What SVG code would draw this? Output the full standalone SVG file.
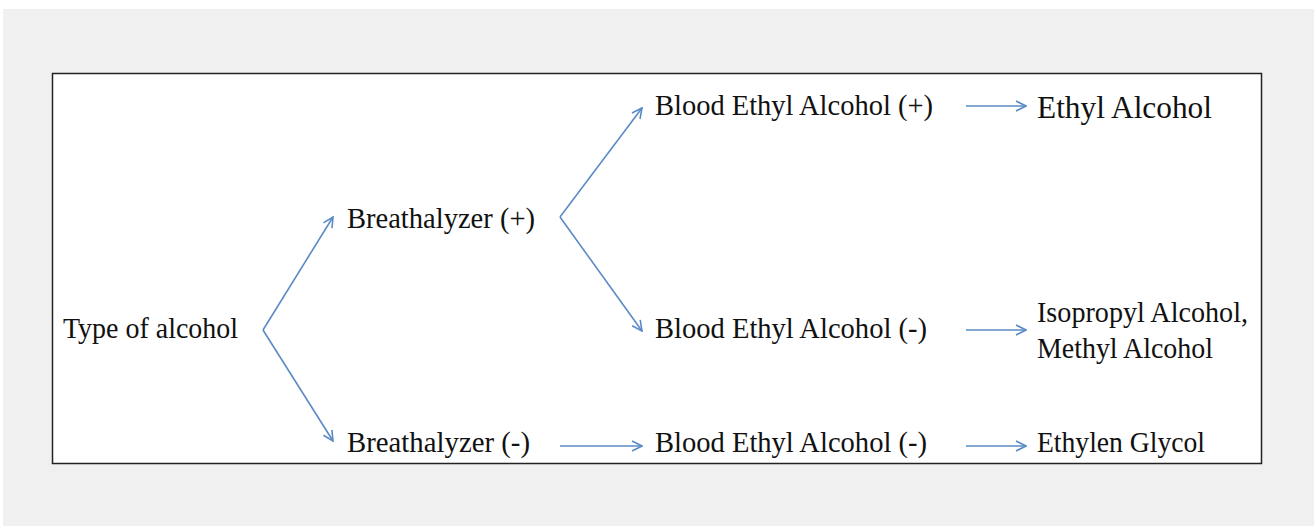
<svg xmlns="http://www.w3.org/2000/svg" width="1314" height="526" viewBox="0 0 1314 526">
<style>
.t{font-family:"Liberation Serif","Times New Roman",serif;font-size:29px;fill:#111}
.c{stroke:#5b8bc6;stroke-width:1.6;fill:none}
</style>
<defs>
<marker id="ah" viewBox="0 0 12 12" refX="11" refY="6" markerWidth="12" markerHeight="12" markerUnits="userSpaceOnUse" orient="auto">
<path d="M1,1 L11,6 L1,11" fill="none" stroke="#5b8bc6" stroke-width="1.6"/>
</marker>
</defs>
<rect x="0" y="0" width="1314" height="526" fill="#ffffff"/>
<rect x="3" y="9" width="1311" height="517" fill="#f0f0f0"/>
<rect x="52.5" y="73.5" width="1209" height="390" fill="#ffffff" stroke="#222" stroke-width="1.5"/>
<g id="connectors">
<line class="c" x1="263" y1="330" x2="333" y2="217" marker-end="url(#ah)"/>
<line class="c" x1="263" y1="330" x2="333" y2="441" marker-end="url(#ah)"/>
<line class="c" x1="560" y1="217" x2="642" y2="108" marker-end="url(#ah)"/>
<line class="c" x1="560" y1="217" x2="642" y2="331" marker-end="url(#ah)"/>
<line class="c" x1="560" y1="446" x2="642" y2="446" marker-end="url(#ah)"/>
<line class="c" x1="966" y1="106" x2="1026" y2="106" marker-end="url(#ah)"/>
<line class="c" x1="966" y1="330" x2="1026" y2="330" marker-end="url(#ah)"/>
<line class="c" x1="966" y1="446" x2="1026" y2="446" marker-end="url(#ah)"/>
</g>
<g id="type"><text class="t" x="63" y="338" textLength="175" lengthAdjust="spacingAndGlyphs">Type of alcohol</text></g>
<g id="breath-pos"><text class="t" x="347" y="228" textLength="188" lengthAdjust="spacingAndGlyphs">Breathalyzer (+)</text></g>
<g id="breath-neg"><text class="t" x="347" y="452" textLength="183" lengthAdjust="spacingAndGlyphs">Breathalyzer (-)</text></g>
<g id="blood-pos"><text class="t" x="655" y="115" textLength="278" lengthAdjust="spacingAndGlyphs">Blood  Ethyl Alcohol (+)</text></g>
<g id="blood-neg1"><text class="t" x="655" y="338" textLength="272" lengthAdjust="spacingAndGlyphs">Blood  Ethyl Alcohol (-)</text></g>
<g id="blood-neg2"><text class="t" x="655" y="452" textLength="272" lengthAdjust="spacingAndGlyphs">Blood  Ethyl Alcohol (-)</text></g>
<g id="ethyl"><text class="t" x="1037" y="118" textLength="175" lengthAdjust="spacingAndGlyphs" style="font-size:31px">Ethyl Alcohol</text></g>
<g id="iso"><text class="t" x="1037" y="322" textLength="211" lengthAdjust="spacingAndGlyphs">Isopropyl Alcohol,</text><text class="t" x="1037" y="358" textLength="176" lengthAdjust="spacingAndGlyphs">Methyl Alcohol</text></g>
<g id="glycol"><text class="t" x="1037" y="452" textLength="168" lengthAdjust="spacingAndGlyphs">Ethylen Glycol</text></g>
</svg>
